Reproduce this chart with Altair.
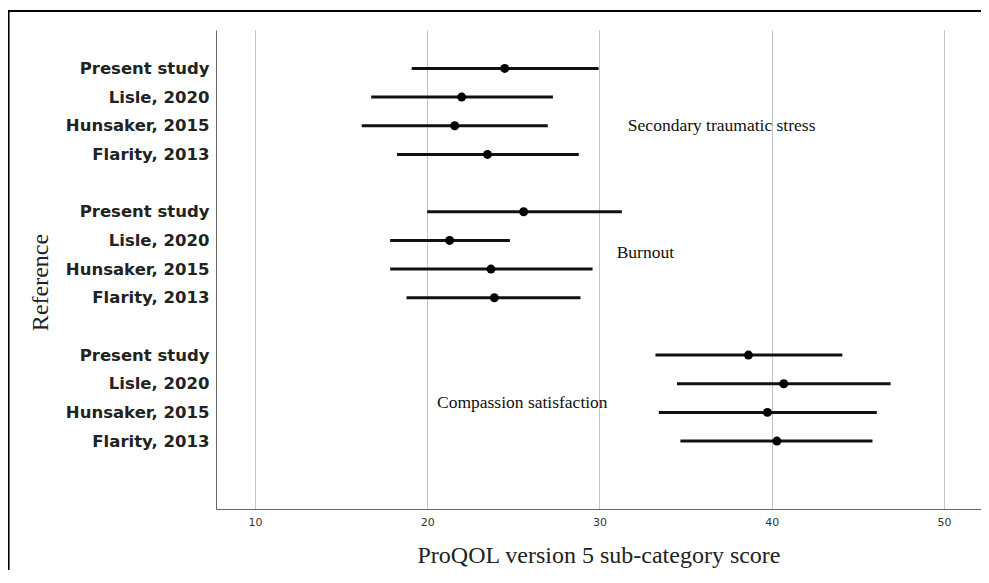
import altair as alt
import pandas as pd

studies = ["Present study", "Lisle, 2020", "Hunsaker, 2015", "Flarity, 2013"]
subscales = ["Secondary traumatic stress", "Burnout", "Compassion satisfaction"]

means = [
    [24.5, 22.0, 21.6, 23.5],
    [25.6, 21.3, 23.7, 23.9],
    [38.65, 40.7, 39.75, 40.3],
]
lows = [
    [19.1, 16.75, 16.2, 18.25],
    [20.0, 17.85, 17.85, 18.8],
    [33.25, 34.5, 33.45, 34.7],
]
highs = [
    [29.95, 27.3, 27.0, 28.8],
    [31.3, 24.8, 29.6, 28.9],
    [44.1, 46.9, 46.1, 45.85],
]

# annotation labels: (x value, row position)
label_x = [31.65, 31.0, 20.57]
label_row = [2.0, 6.45, 11.67]

rows = []
for g, sub in enumerate(subscales):
    for i, st in enumerate(studies):
        rows.append({"subscale": sub, "study": st, "row": g * 5 + i,
                     "mean": means[g][i], "low": lows[g][i], "high": highs[g][i]})
df = pd.DataFrame(rows)
ann = pd.DataFrame({"text": subscales, "x": label_x, "row": label_row})

row_values = list(df["row"])
label_arr = [""] * 15
for r in rows:
    label_arr[r["row"]] = r["study"]
label_expr = "[" + ",".join("'" + s + "'" for s in label_arr) + "][datum.value]"

xscale = alt.Scale(domain=[7.74, 52.15], nice=False, zero=False)
yscale = alt.Scale(domain=[-1.34, 15.37], nice=False, zero=False, reverse=True)

x_axis = alt.Axis(
    title="ProQOL version 5 sub-category score",
    values=[10, 20, 30, 40, 50], format="d",
    grid=True, gridColor="#c4c4c4", gridWidth=1,
    ticks=False, domainColor="#666666", domainWidth=1,
    labelFont="DejaVu Sans", labelFontSize=11, labelColor="#333333", labelPadding=7,
    titleFont="Liberation Serif", titleFontSize=24, titleFontWeight="normal",
    titleColor="#222222", titleY=46, titleBaseline="middle",
)
y_axis = alt.Axis(
    title="Reference", values=row_values, labelExpr=label_expr,
    grid=False, ticks=False, domainColor="#666666", domainWidth=1,
    labelFont="DejaVu Sans", labelFontSize=16.5, labelFontWeight="bold",
    labelColor="#222222", labelPadding=7,
    titleFont="Liberation Serif", titleFontSize=24, titleFontWeight="normal",
    titleColor="#222222", titleX=-176, titleY=252, titleAngle=270,
    titleAlign="center", titleBaseline="middle",
)

base = alt.Chart(df)
bars = base.mark_rule(color="#111111", strokeWidth=3).encode(
    x=alt.X("low:Q", scale=xscale, axis=x_axis),
    x2="high:Q",
    y=alt.Y("row:Q", scale=yscale, axis=y_axis),
)
pts = base.mark_circle(color="#000000", size=80, opacity=1).encode(
    x=alt.X("mean:Q", scale=xscale),
    y=alt.Y("row:Q", scale=yscale),
)
texts = alt.Chart(ann).mark_text(
    align="left", baseline="middle", font="Liberation Serif", fontSize=17.5, color="#111111"
).encode(
    x=alt.X("x:Q", scale=xscale),
    y=alt.Y("row:Q", scale=yscale),
    text="text:N",
)
frame_top = alt.Chart(ann).mark_rule(color="#000000", strokeWidth=1.5).encode(
    x=alt.value(-208), x2=alt.value(800), y=alt.value(-19)
)
frame_left = alt.Chart(ann).mark_rule(color="#000000", strokeWidth=1.5).encode(
    x=alt.value(-207.5), y=alt.value(-19), y2=alt.value(600)
)

chart = alt.layer(frame_top, frame_left, bars, pts, texts).properties(
    width=765, height=479,
    autosize=alt.AutoSizeParams(type="none"),
    padding={"left": 208, "top": 22, "right": 0, "bottom": 61},
).configure_view(strokeWidth=0)

chart.save("out.html", embed_options={"renderer": "svg", "actions": False})
